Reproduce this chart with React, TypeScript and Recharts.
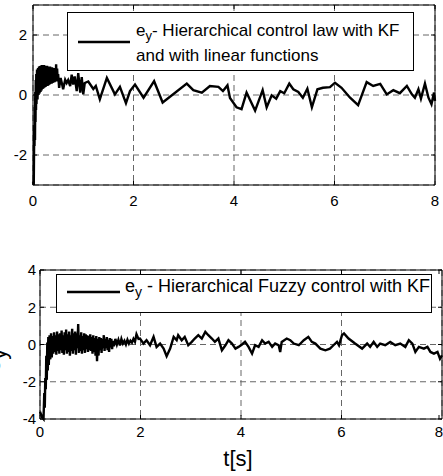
import React from 'react'
import { LineChart, Line, XAxis, YAxis, CartesianGrid, ReferenceArea } from 'recharts'

const FONT = '"Liberation Sans", Arial, Helvetica, sans-serif'

const xTicks = [0, 2, 4, 6, 8]
const topYTicks = [-2, 0, 2]
const bottomYTicks = [-4, -2, 0, 2, 4]

// top panel: start-up transient (t, e_y)
const topStart: [number, number][] = [
  [0, -2.9], [0.015, -3], [0.025, -1.0], [0.03, -1.7], [0.035, -0.4], [0.04, -1.5], [0.045, 0.1],
  [0.05, -0.9], [0.055, 0.5], [0.06, -0.5], [0.065, 0.7], [0.07, -0.3], [0.08, 0.85], [0.09, -0.15],
  [0.1, 0.9], [0.11, 0.0], [0.12, 0.95], [0.13, 0.05], [0.14, 0.97], [0.15, 0.1], [0.16, 0.98],
  [0.17, 0.15], [0.18, 1.0], [0.19, 0.2], [0.2, 0.98], [0.21, 0.22], [0.22, 1.0], [0.23, 0.25],
  [0.24, 0.97], [0.25, 0.27], [0.26, 0.95], [0.27, 0.3], [0.28, 0.97], [0.29, 0.3], [0.3, 0.95],
  [0.31, 0.33], [0.32, 0.93], [0.33, 0.35], [0.34, 0.95], [0.35, 0.37], [0.36, 0.9], [0.37, 0.38],
  [0.38, 0.92], [0.39, 0.4], [0.4, 0.88], [0.41, 0.42], [0.42, 0.9], [0.43, 0.43], [0.44, 0.85],
  [0.45, 0.45], [0.46, 1.02], [0.47, 0.45], [0.48, 0.88], [0.49, 0.5], [0.5, 0.7],
]

// top panel: steady part
const topTail: [number, number][] = [
  [0.52, 0.24], [0.55, 0.57], [0.58, 0.35], [0.6, 0.19], [0.64, 0.51], [0.67, 0.4], [0.7, 0.5],
  [0.74, 0.3], [0.77, 0.68], [0.8, 0.35], [0.83, 0.62], [0.87, 0.13], [0.9, 0.73], [0.94, 0.08],
  [0.97, 0.6], [1.0, 0.02], [1.03, 0.4], [1.1, 0.45], [1.2, 0.2], [1.25, 0.3], [1.33, -0.14],
  [1.47, 0.57], [1.63, 0.02], [1.73, 0.27], [1.85, -0.27], [1.93, 0.13], [2.03, 0.35], [2.2, -0.09],
  [2.41, 0.46], [2.58, -0.25], [3.06, 0.38], [3.19, 0.16], [3.36, 0.08], [3.52, 0.3], [3.69, 0.27],
  [3.78, 0.13], [3.87, 0.32], [3.92, -0.1], [4.05, -0.41], [4.15, -0.47], [4.25, 0.08], [4.42, -0.52],
  [4.57, 0.16], [4.65, -0.41], [4.75, -0.01], [4.84, -0.12], [4.92, 0.13], [5.0, 0.06], [5.1, 0.38],
  [5.18, 0.19], [5.28, 0.1], [5.37, -0.09], [5.46, 0.21], [5.55, -0.41], [5.66, 0.19], [5.77, 0.24],
  [5.91, 0.26], [6.01, 0.41], [6.14, 0.24], [6.31, -0.09], [6.47, -0.34], [6.64, 0.43], [6.77, 0.3],
  [6.91, 0.37], [7.04, 0.02], [7.17, 0.16], [7.3, 0.06], [7.44, 0.3], [7.54, 0.02], [7.6, -0.09],
  [7.67, 0.19], [7.72, -0.12], [7.8, 0.38], [7.87, -0.09], [7.93, -0.31], [7.98, 0.08], [8.0, -0.2],
]

// bottom panel: start-up transient
const bottomStart: [number, number][] = [
  [0.0, -3.6], [0.04, -3.9], [0.07, -4.0], [0.085, -2.6], [0.095, -3.4], [0.105, -1.8], [0.115, -2.4],
  [0.125, -0.6], [0.135, -1.9], [0.145, 0.1], [0.155, -1.4], [0.165, 0.4], [0.175, -1.1], [0.19, 0.5],
  [0.205, -0.8], [0.22, 0.6], [0.235, -0.7], [0.25, 0.45], [0.265, -0.5], [0.28, 0.65], [0.295, -0.4],
  [0.31, 0.5], [0.325, -0.55], [0.34, 0.7], [0.355, -0.35], [0.37, 0.55], [0.385, -0.5], [0.4, 0.6],
  [0.415, -0.3], [0.43, 0.75], [0.445, -0.45], [0.46, 0.5], [0.475, -0.55], [0.49, 0.65], [0.505, -0.3],
  [0.52, 0.8], [0.535, -0.5], [0.55, 0.55], [0.565, -0.4], [0.58, 0.7], [0.595, -0.6], [0.61, 0.5],
  [0.625, -0.35], [0.64, 0.85], [0.655, -0.5], [0.67, 0.6], [0.685, -0.3], [0.7, 0.7], [0.715, -0.55],
  [0.73, 0.6], [0.745, -0.2], [0.76, 1.1], [0.775, -0.45], [0.79, 0.5], [0.805, -0.35], [0.82, 0.65],
  [0.835, -0.5], [0.85, 0.45], [0.865, -0.3], [0.88, 0.6], [0.895, -0.45], [0.91, 0.55], [0.925, -0.25],
  [0.94, 0.5], [0.955, -0.4], [0.97, 0.45], [0.985, -0.3], [1.0, 0.55], [1.015, -0.35], [1.03, 0.4],
  [1.045, -0.5], [1.06, 0.5], [1.075, -0.4], [1.09, 0.35], [1.105, -0.6], [1.12, 0.45], [1.135, -0.9],
  [1.15, 0.3], [1.165, -0.6], [1.18, 0.4], [1.195, -0.3], [1.21, 0.35], [1.225, -0.45], [1.24, 0.3],
  [1.255, -0.2], [1.27, 0.5], [1.285, -0.35], [1.3, 0.3], [1.315, -0.2], [1.33, 0.4], [1.345, -0.3],
  [1.36, 0.25], [1.375, -0.4], [1.39, 0.35], [1.405, -0.15], [1.42, 0.3], [1.435, -0.25], [1.45, 0.2],
  [1.47, -0.1], [1.5, 0.3], [1.53, 0.0], [1.56, 0.25], [1.59, -0.05], [1.62, 0.3], [1.65, 0.05],
  [1.68, 0.2], [1.71, 0.0], [1.74, 0.25], [1.77, 0.05], [1.8, 0.2], [1.83, 0.1], [1.86, 0.3],
  [1.89, 0.15], [1.92, 0.55], [1.96, 0.3], [1.99, 0.32],
]

// bottom panel: steady part
const bottomTail: [number, number][] = [
  [2.06, 0.05], [2.12, 0.23], [2.19, -0.04], [2.26, 0.41], [2.32, -0.13], [2.39, 0.05], [2.46, -0.22],
  [2.52, -0.63], [2.59, -0.22], [2.66, 0.41], [2.72, 0.23], [2.75, 0.5], [2.82, 0.23], [2.88, 0.41],
  [2.95, -0.04], [3.02, 0.14], [3.08, 0.32], [3.15, 0.5], [3.22, 0.32], [3.29, 0.68], [3.35, 0.5],
  [3.42, 0.32], [3.48, 0.14], [3.55, 0.32], [3.62, -0.31], [3.69, -0.04], [3.75, 0.23], [3.82, 0.05],
  [3.89, -0.22], [3.95, -0.13], [4.02, 0.0], [4.08, 0.14], [4.15, -0.13], [4.22, -0.49], [4.28, -0.04],
  [4.35, -0.13], [4.42, 0.23], [4.48, 0.05], [4.55, 0.14], [4.62, -0.13], [4.68, 0.05], [4.75, -0.04],
  [4.78, -0.4], [4.81, 0.14], [4.91, 0.32], [4.98, 0.23], [5.05, 0.05], [5.15, -0.04], [5.25, 0.23],
  [5.34, 0.41], [5.41, 0.14], [5.48, 0.05], [5.58, -0.22], [5.68, -0.31], [5.77, -0.22], [5.84, -0.04],
  [5.91, 0.14], [5.95, -0.04], [6.01, 0.5], [6.05, 0.59], [6.14, 0.32], [6.27, 0.05], [6.41, -0.22],
  [6.51, 0.05], [6.57, -0.13], [6.64, 0.14], [6.71, -0.13], [6.77, 0.05], [6.87, -0.04], [6.97, 0.14],
  [7.07, -0.04], [7.17, 0.05], [7.27, -0.13], [7.34, 0.23], [7.41, 0.05], [7.47, -0.4], [7.54, -0.13],
  [7.64, -0.22], [7.71, -0.13], [7.77, -0.4], [7.84, -0.49], [7.91, -0.4], [7.96, -0.76], [8.0, -0.58],
]

const toRows = (pts: [number, number][]) => pts.map(([t, v]) => ({ t, v }))
const topData = toRows([...topStart, ...topTail])
const bottomData = toRows([...bottomStart, ...bottomTail])

const TICK_LEN = 4

function makeXTick(plotH: number, labelDy: number) {
  return (props: any) => {
    const { x, y, payload } = props
    return (
      <g>
        <line x1={x} y1={y} x2={x} y2={y - TICK_LEN} stroke="#000" />
        <line x1={x} y1={y - plotH} x2={x} y2={y - plotH + TICK_LEN} stroke="#000" />
        <text x={x} y={y + labelDy} textAnchor="middle" fontSize={15} fontFamily={FONT} fill="#000">
          {payload.value}
        </text>
      </g>
    )
  }
}

function makeYTick(plotW: number, gap: number) {
  return (props: any) => {
    const { x, y, payload } = props
    return (
      <g>
        <line x1={x} y1={y} x2={x + TICK_LEN} y2={y} stroke="#000" />
        <line x1={x + plotW} y1={y} x2={x + plotW - TICK_LEN} y2={y} stroke="#000" />
        <text x={x - gap} y={y} dy="0.36em" textAnchor="end" fontSize={15} fontFamily={FONT} fill="#000">
          {payload.value}
        </text>
      </g>
    )
  }
}

const topXTick = makeXTick(180, 21)
const topYTick = makeYTick(402, 6)
const bottomXTick = makeXTick(149, 18)
const bottomYTick = makeYTick(402, 4)

export default function App() {
  return (
    <div style={{ position: 'absolute', left: 0, top: 0, width: 443, height: 476, background: '#fff', overflow: 'hidden' }}>
      <div style={{ position: 'absolute', left: 0, top: 0 }}>
        <LineChart width={443} height={215} data={topData} margin={{ top: 5, right: 8, left: 0, bottom: 0 }}>
          <CartesianGrid stroke="#666" strokeDasharray="6 4" />
          <XAxis
            dataKey="t"
            type="number"
            domain={[0, 8]}
            ticks={xTicks}
            height={30}
            axisLine={false}
            tickLine={false}
            tickSize={0}
            tickMargin={0}
            tick={topXTick}
          />
          <YAxis
            type="number"
            domain={[-3, 3]}
            ticks={topYTicks}
            width={33}
            axisLine={false}
            tickLine={false}
            tickSize={0}
            tickMargin={0}
            tick={topYTick}
          />
          <ReferenceArea x1={0} x2={8} y1={-3} y2={3} fill="none" stroke="#000" strokeWidth={1} ifOverflow="visible" />
          <Line dataKey="v" type="linear" stroke="#000" strokeWidth={2.4} dot={false} isAnimationActive={false} />
        </LineChart>
      </div>

      <div style={{ position: 'absolute', left: 0, top: 255 }}>
        <LineChart width={443} height={221} data={bottomData} margin={{ top: 15, right: 1, left: 0, bottom: 0 }}>
          <CartesianGrid stroke="#666" strokeDasharray="6 4" />
          <XAxis
            dataKey="t"
            type="number"
            domain={[0, 8]}
            ticks={xTicks}
            height={57}
            axisLine={false}
            tickLine={false}
            tickSize={0}
            tickMargin={0}
            tick={bottomXTick}
          />
          <YAxis
            type="number"
            domain={[-4, 4]}
            ticks={bottomYTicks}
            width={40}
            axisLine={false}
            tickLine={false}
            tickSize={0}
            tickMargin={0}
            tick={bottomYTick}
          />
          <ReferenceArea x1={0} x2={8} y1={-4} y2={4} fill="none" stroke="#000" strokeWidth={1} ifOverflow="visible" />
          <Line dataKey="v" type="linear" stroke="#000" strokeWidth={2.4} dot={false} isAnimationActive={false} />
        </LineChart>
      </div>

      {/* legends and axis labels */}
      <svg width={443} height={476} style={{ position: 'absolute', left: 0, top: 0, pointerEvents: 'none' }}>
        <g fontFamily={FONT} fill="#000">
          <rect x={67.5} y={12.5} width={346} height={58} fill="#fff" stroke="#000" />
          <line x1={78} x2={130} y1={42} y2={42} stroke="#000" strokeWidth={2.5} />
          <text x={136} y={36} fontSize={17}>
            e<tspan dy={4} fontSize={13}>y</tspan>
            <tspan dy={-4}>- Hierarchical control law with KF</tspan>
          </text>
          <text x={136} y={61} fontSize={17}>and with linear functions</text>

          <rect x={56.5} y={274.5} width={375} height={38} fill="#fff" stroke="#000" />
          <line x1={67} x2={120} y1={292} y2={292} stroke="#000" strokeWidth={2.5} />
          <text x={125} y={292} fontSize={18}>
            e<tspan dy={5} fontSize={14}>y</tspan>
            <tspan dy={-5}> - Hierarchical Fuzzy control with KF</tspan>
          </text>

          <text x={238} y={466} fontSize={22} textAnchor="middle">t[s]</text>
          <text transform="translate(0,372) rotate(-90)" fontSize={22}>
            e<tspan dy={6}>y</tspan>
          </text>
        </g>
      </svg>
    </div>
  )
}
